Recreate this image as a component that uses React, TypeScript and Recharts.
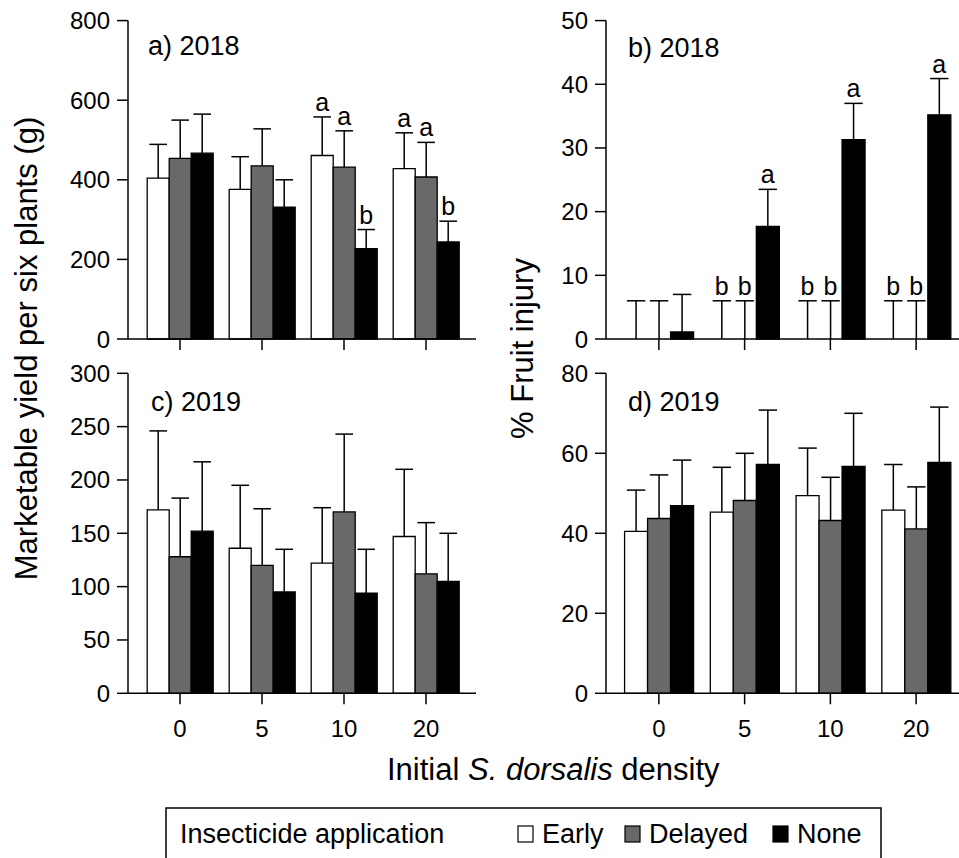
import { BarChart, Bar, XAxis, YAxis, LabelList } from "recharts";

const densities = ["0", "5", "10", "20"];

// a) 2018 marketable yield per six plants (g)
const yield2018Early = [404, 376, 461, 428];
const yield2018Delayed = [454, 435, 432, 407];
const yield2018None = [467, 331, 227, 244];
const yield2018EarlyErr = [85, 82, 97, 90];
const yield2018DelayedErr = [96, 93, 91, 87];
const yield2018NoneErr = [98, 69, 48, 52];
const yield2018EarlyLetters = ["", "", "a", "a"];
const yield2018DelayedLetters = ["", "", "a", "a"];
const yield2018NoneLetters = ["", "", "b", "b"];
const yield2018Ticks = [0, 200, 400, 600, 800];

// b) 2018 % fruit injury
const injury2018Early = [0, 0, 0, 0];
const injury2018Delayed = [0, 0, 0, 0];
const injury2018None = [1.1, 17.7, 31.3, 35.2];
const injury2018EarlyErr = [6, 6, 6, 6];
const injury2018DelayedErr = [6, 6, 6, 6];
const injury2018NoneErr = [5.9, 5.8, 5.7, 5.7];
const injury2018EarlyLetters = ["", "b", "b", "b"];
const injury2018DelayedLetters = ["", "b", "b", "b"];
const injury2018NoneLetters = ["", "a", "a", "a"];
const injury2018Ticks = [0, 10, 20, 30, 40, 50];

// c) 2019 marketable yield
const yield2019Early = [172, 136, 122, 147];
const yield2019Delayed = [128, 120, 170, 112];
const yield2019None = [152, 95, 94, 105];
const yield2019EarlyErr = [74, 59, 52, 63];
const yield2019DelayedErr = [55, 53, 73, 48];
const yield2019NoneErr = [65, 40, 41, 45];
const yield2019Ticks = [0, 50, 100, 150, 200, 250, 300];

// d) 2019 % fruit injury
const injury2019Early = [40.5, 45.3, 49.4, 45.8];
const injury2019Delayed = [43.7, 48.2, 43.2, 41.1];
const injury2019None = [46.9, 57.2, 56.7, 57.75];
const injury2019EarlyErr = [10.3, 11.2, 11.9, 11.4];
const injury2019DelayedErr = [10.9, 11.8, 10.8, 10.5];
const injury2019NoneErr = [11.4, 13.6, 13.3, 13.8];
const injury2019Ticks = [0, 20, 40, 60, 80];

const noLetters = ["", "", "", ""];

const series = [
  { key: "early", name: "Early", fill: "#ffffff" },
  { key: "delayed", name: "Delayed", fill: "#696969" },
  { key: "none", name: "None", fill: "#000000" },
];

const FONT = "'Liberation Sans', Arial, Helvetica, sans-serif";
const axisStroke = { stroke: "#000", strokeWidth: 1.5 };

function buildRows(
  early: number[], delayed: number[], none: number[],
  earlyErr: number[], delayedErr: number[], noneErr: number[],
  earlyL: string[], delayedL: string[], noneL: string[]
) {
  return densities.map((d, i) => ({
    density: d,
    early: early[i], earlyErr: earlyErr[i], earlyLetter: earlyL[i],
    delayed: delayed[i], delayedErr: delayedErr[i], delayedLetter: delayedL[i],
    none: none[i], noneErr: noneErr[i], noneLetter: noneL[i],
  }));
}

const dataA = buildRows(yield2018Early, yield2018Delayed, yield2018None,
  yield2018EarlyErr, yield2018DelayedErr, yield2018NoneErr,
  yield2018EarlyLetters, yield2018DelayedLetters, yield2018NoneLetters);
const dataB = buildRows(injury2018Early, injury2018Delayed, injury2018None,
  injury2018EarlyErr, injury2018DelayedErr, injury2018NoneErr,
  injury2018EarlyLetters, injury2018DelayedLetters, injury2018NoneLetters);
const dataC = buildRows(yield2019Early, yield2019Delayed, yield2019None,
  yield2019EarlyErr, yield2019DelayedErr, yield2019NoneErr,
  noLetters, noLetters, noLetters);
const dataD = buildRows(injury2019Early, injury2019Delayed, injury2019None,
  injury2019EarlyErr, injury2019DelayedErr, injury2019NoneErr,
  noLetters, noLetters, noLetters);

// upward error whisker drawn on the transparent stacked segment
const Whisker = (props: any) => {
  const { x, y, width, height } = props;
  if (!height || height <= 0) return <g />;
  const cx = x + width / 2;
  const half = width * 0.4;
  return (
    <g stroke="#000" strokeWidth={1.5}>
      <line x1={cx} y1={y + height} x2={cx} y2={y} />
      <line x1={cx - half} y1={y} x2={cx + half} y2={y} />
    </g>
  );
};

type PanelProps = {
  data: any[];
  ticks: number[];
  left: number;
  top: number;
  width: number;
  height: number;
  plotTop: number;
  xAxisHeight: number;
  yAxisWidth: number;
  padding: { left: number; right: number };
  rightMargin: number;
  showXLabels: boolean;
};

function Panel(p: PanelProps) {
  const max = p.ticks[p.ticks.length - 1];
  return (
    <div style={{ position: "absolute", left: p.left, top: p.top }}>
      <BarChart
        width={p.width}
        height={p.height}
        data={p.data}
        margin={{ top: p.plotTop, right: p.rightMargin, bottom: 0, left: 0 }}
        barGap={0}
        barCategoryGap="10%"
      >
        <XAxis
          dataKey="density"
          height={p.xAxisHeight}
          padding={p.padding}
          axisLine={axisStroke}
          tickLine={axisStroke}
          tickSize={11}
          tickMargin={16}
          interval={0}
          tick={{ fill: "#000", fontSize: 24 }}
          tickFormatter={p.showXLabels ? undefined : () => ""}
        />
        <XAxis xAxisId="top" orientation="top" dataKey="density" height={0}
          tick={false} tickLine={false} axisLine={axisStroke} />
        <YAxis
          domain={[0, max]}
          ticks={p.ticks}
          width={p.yAxisWidth}
          axisLine={axisStroke}
          tickLine={axisStroke}
          tickSize={11}
          tickMargin={7}
          interval={0}
          tick={{ fill: "#000", fontSize: 24 }}
        />
        <YAxis yAxisId="right" orientation="right" width={0} domain={[0, max]}
          tick={false} tickLine={false} axisLine={axisStroke} />
        {series.flatMap((s) => [
          <Bar key={s.key} dataKey={s.key} stackId={s.key} fill={s.fill}
            stroke="#000" strokeWidth={1.3} isAnimationActive={false} />,
          <Bar key={s.key + "Err"} dataKey={s.key + "Err"} stackId={s.key}
            fill="none" shape={(sp: any) => <Whisker {...sp} />} isAnimationActive={false}>
            <LabelList dataKey={s.key + "Letter"} position="top" offset={6}
              fill="#000" fontSize={25} />
          </Bar>,
        ])}
      </BarChart>
    </div>
  );
}

export default function App() {
  const leftCol = { left: 0, width: 480, yAxisWidth: 128, rightMargin: 4, padding: { left: 11, right: 9 } };
  const rightCol = { left: 480, width: 489, yAxisWidth: 126, rightMargin: 0, padding: { left: 10, right: 10 } };
  const topRow = { top: 0, height: 360, plotTop: 20.6, xAxisHeight: 21 };
  const bottomRow = { top: 360, height: 400, plotTop: 13.3, xAxisHeight: 66.7 };
  return (
    <div style={{ position: "absolute", left: 0, top: 0, width: 959, height: 858, overflow: "hidden", background: "#fff", fontFamily: FONT }}>
      <Panel data={dataA} ticks={yield2018Ticks} {...leftCol} {...topRow} showXLabels={false} />
      <Panel data={dataB} ticks={injury2018Ticks} {...rightCol} {...topRow} showXLabels={false} />
      <Panel data={dataC} ticks={yield2019Ticks} {...leftCol} {...bottomRow} showXLabels />
      <Panel data={dataD} ticks={injury2019Ticks} {...rightCol} {...bottomRow} showXLabels />
      <svg width={959} height={858} style={{ position: "absolute", left: 0, top: 0, pointerEvents: "none" }}
        fontFamily={FONT} fill="#000">
        <text x={148} y={55} fontSize={27}>a) 2018</text>
        <text x={628} y={57} fontSize={27}>b) 2018</text>
        <text x={151} y={411} fontSize={27}>c) 2019</text>
        <text x={628} y={411} fontSize={27}>d) 2019</text>
        <text transform="translate(37,348.5) rotate(-90)" textAnchor="middle" fontSize={31}>
          Marketable yield per six plants (g)
        </text>
        <text transform="translate(533,348.5) rotate(-90)" textAnchor="middle" fontSize={31}>
          % Fruit injury
        </text>
        <text x={387} y={780} fontSize={31}>
          Initial <tspan fontStyle="italic">S. dorsalis</tspan> density
        </text>
        <rect x={166} y={808} width={715} height={80} fill="none" stroke="#000" strokeWidth={1.5} />
        <text x={180} y={843} fontSize={27}>Insecticide application</text>
        {series.map((s, i) => {
          const sx = [518, 625, 773][i];
          return (
            <g key={s.key}>
              <rect x={sx} y={826} width={15} height={16} fill={s.fill} stroke="#000" strokeWidth={1.2} />
              <text x={sx + 24} y={843} fontSize={27}>{s.name}</text>
            </g>
          );
        })}
      </svg>
    </div>
  );
}
